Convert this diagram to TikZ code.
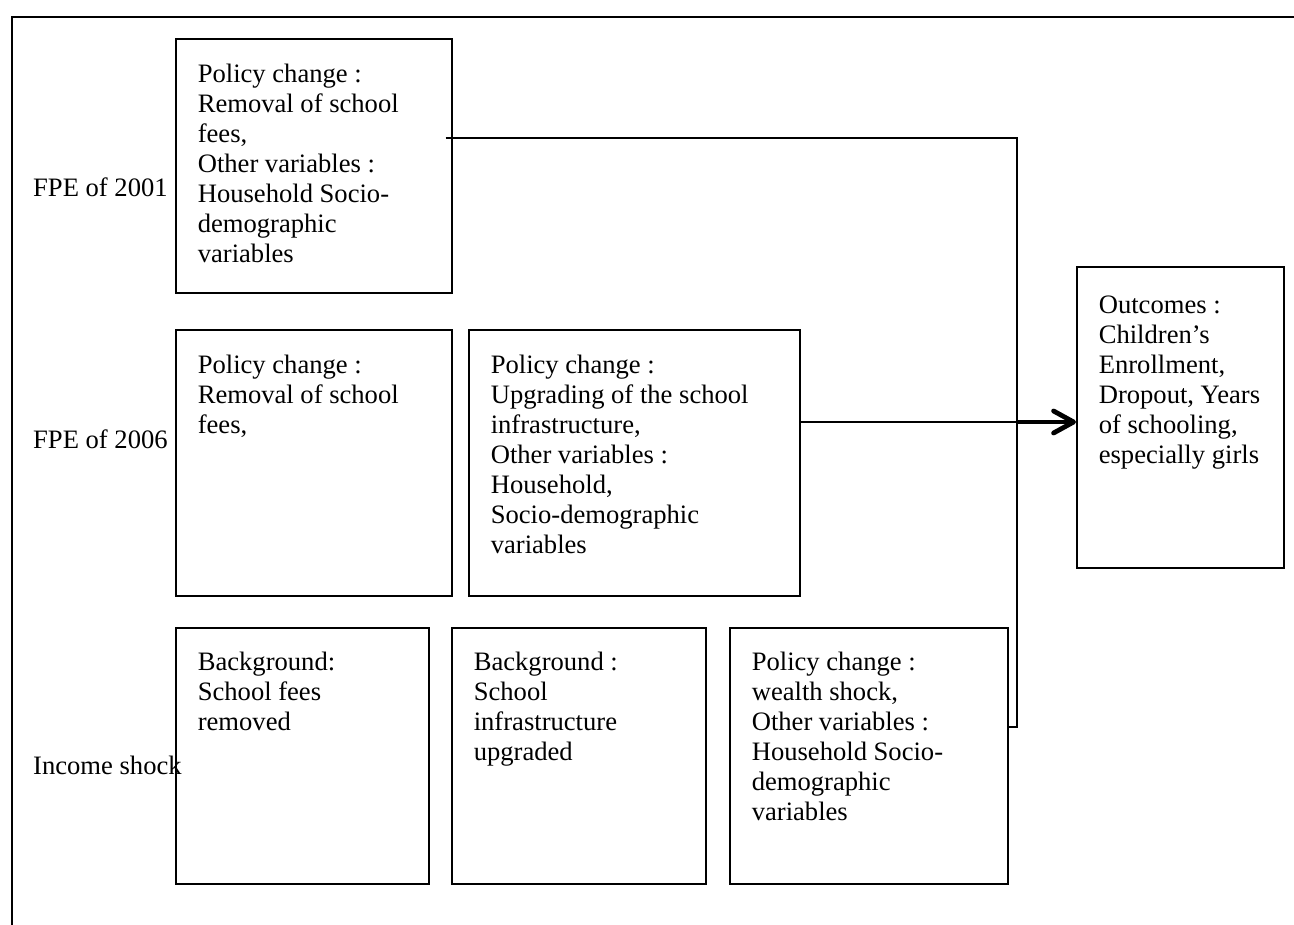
\documentclass[tikz,border=0pt]{standalone}
\usepackage{fontspec}
\setmainfont{Liberation Serif}
\usetikzlibrary{arrows.meta}
\newcommand{\bxt}[4]{\parbox[c][#2][t]{#1}{\raggedright\leftskip=22pt\rule{0pt}{#3}#4}}
\begin{document}
\begin{tikzpicture}[x=1pt,y=-1pt,
  box/.style={draw,line width=1.6pt,inner sep=0pt,anchor=north west},
  rowlabel/.style={anchor=base west,inner sep=0pt},
  conn/.style={line width=1.8pt},
  thickarrow/.style={line width=4.8pt,-{Straight Barb[length=20pt,width=22pt,line cap=round,line join=round]}}]
\useasboundingbox (0,0) rectangle (1294,925);
\fontsize{26.6pt}{30pt}\selectfont
% outer frame
\draw[line width=1.8pt] (12,925) -- (12,17) -- (1294,17);
% boxes
\node[box] (b1) at (175,38) {\bxt{276pt}{254pt}{44pt}{Policy change :\\Removal of school\\fees,\\Other variables :\\Household Socio-\\demographic\\variables}};
\node[box] (b2) at (175,329) {\bxt{276pt}{266pt}{44pt}{Policy change :\\Removal of school\\fees,}};
\node[box] (b3) at (468,329) {\bxt{331pt}{266pt}{44pt}{Policy change :\\Upgrading of the school\\infrastructure,\\Other variables :\\Household,\\Socio-demographic\\variables}};
\node[box] (b4) at (175,627) {\bxt{253pt}{256pt}{43pt}{Background:\\School fees\\removed}};
\node[box] (b5) at (451,627) {\bxt{254pt}{256pt}{43pt}{Background :\\School\\infrastructure\\upgraded}};
\node[box] (b6) at (729,627) {\bxt{278pt}{256pt}{43pt}{Policy change :\\wealth shock,\\Other variables :\\Household Socio-\\demographic\\variables}};
\node[box] (b7) at (1076,266) {\bxt{207pt}{301pt}{47pt}{Outcomes :\\Children’s\\Enrollment,\\Dropout, Years\\of schooling,\\especially girls}};
% row labels
\node[rowlabel] (l1) at (33,197) {FPE of 2001};
\node[rowlabel] (l2) at (33,448) {FPE of 2006};
\node[rowlabel] (l3) at (33,774) {Income shock};
% connectors
\coordinate (j1) at (1017,138);
\coordinate (j2) at (1017,422);
\coordinate (j3) at (1017,727);
\draw[conn] ([xshift=-7pt]b1.east |- j1) -- (j1) -- (j3) -- (b6.east |- j3);
\draw[conn] (b3.east |- j2) -- (j2);
\draw[thickarrow] (j2) -- (b7.west |- j2);
\end{tikzpicture}
\end{document}
